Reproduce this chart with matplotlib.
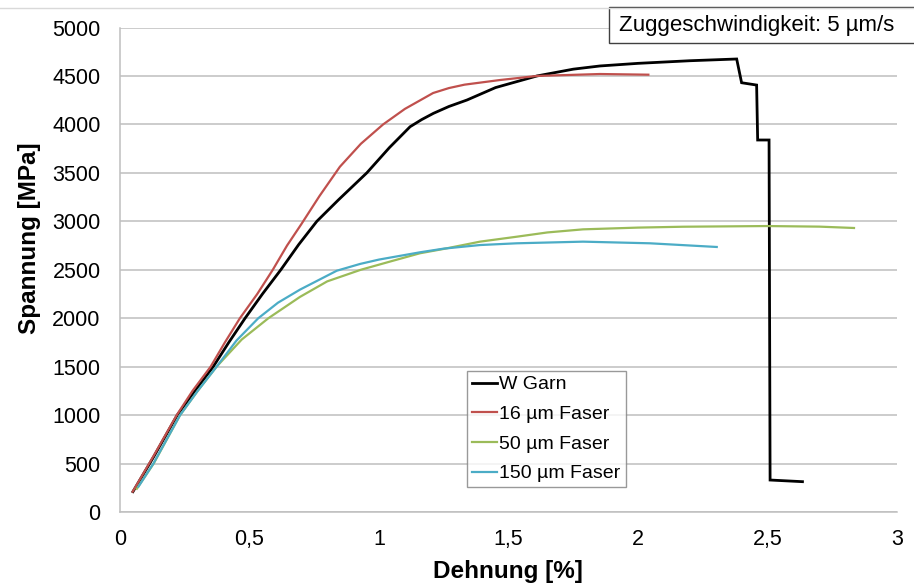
import matplotlib
matplotlib.use("Agg")
import matplotlib.pyplot as plt
from matplotlib.patches import Rectangle
from matplotlib.lines import Line2D

plt.rcParams['font.family'] = ['Liberation Sans', 'DejaVu Sans']

# ---- data ----
garn_x = [0.05, 0.13, 0.221, 0.29, 0.36, 0.42, 0.483, 0.55, 0.621, 0.69, 0.76, 0.843,
          0.953, 1.04, 1.12, 1.165, 1.21, 1.27, 1.34, 1.45, 1.61, 1.75, 1.853, 2.0, 2.2,
          2.381, 2.40, 2.458, 2.462, 2.506, 2.51, 2.635]
garn_y = [210, 570, 1000, 1250, 1500, 1750, 2000, 2250, 2500, 2760, 3000, 3220,
          3500, 3760, 3976, 4050, 4114, 4185, 4252, 4380, 4500, 4570, 4603, 4630, 4657,
          4675, 4430, 4406, 3839, 3839, 330, 313]

f16_x = [0.049, 0.13, 0.219, 0.28, 0.35, 0.405, 0.463, 0.53, 0.59, 0.645, 0.70, 0.77,
         0.849, 0.93, 1.016, 1.10, 1.209, 1.27, 1.33, 1.467, 1.61, 1.853, 2.04]
f16_y = [210, 580, 1000, 1250, 1500, 1750, 2000, 2250, 2500, 2750, 2970, 3260,
         3563, 3800, 4000, 4160, 4324, 4375, 4410, 4458, 4500, 4520, 4513]

f50_x = [0.065, 0.13, 0.232, 0.30, 0.373, 0.47, 0.573, 0.695, 0.80, 0.93, 1.05, 1.158,
         1.25, 1.39, 1.532, 1.65, 1.788, 2.0, 2.174, 2.497, 2.7, 2.834]
f50_y = [240, 500, 1000, 1250, 1500, 1780, 2000, 2220, 2380, 2500, 2590, 2670,
         2715, 2790, 2841, 2885, 2917, 2935, 2944, 2951, 2945, 2931]

f150_x = [0.071, 0.129, 0.232, 0.30, 0.373, 0.45, 0.534, 0.61, 0.695, 0.837, 0.927, 1.0,
          1.158, 1.25, 1.39, 1.532, 1.788, 2.046, 2.304]
f150_y = [261, 500, 1000, 1250, 1500, 1770, 2000, 2160, 2295, 2490, 2560, 2605,
          2680, 2718, 2755, 2773, 2790, 2773, 2735]

series_labels = ["W Garn", "16 µm Faser", "50 µm Faser", "150 µm Faser"]
series_colors = ["#000000", "#c0504d", "#9bbb59", "#4bacc6"]

x_ticks = [0, 0.5, 1, 1.5, 2, 2.5, 3]
x_tick_labels = ["0", "0,5", "1", "1,5", "2", "2,5", "3"]
y_ticks = [0, 500, 1000, 1500, 2000, 2500, 3000, 3500, 4000, 4500, 5000]
y_tick_labels = [str(v) for v in y_ticks]

x_label = "Dehnung [%]"
y_label = "Spannung [MPa]"
note = "Zuggeschwindigkeit: 5 µm/s"

# ---- figure ----
W, H = 914, 586
L, R, T, B = 120, 897, 27.5, 512
fig = plt.figure(figsize=(W / 100, H / 100), dpi=100)
ax = fig.add_axes([L / W, 1 - B / H, (R - L) / W, (B - T) / H])

ax.set_xlim(0, 3)
ax.set_ylim(0, 5000)
ax.set_xticks(x_ticks)
ax.set_xticklabels(x_tick_labels)
ax.set_yticks(y_ticks)
ax.set_yticklabels(y_tick_labels)
ax.tick_params(axis='both', length=0, labelsize=15.5, colors='#000000')
ax.tick_params(axis='y', pad=14)
ax.tick_params(axis='x', pad=12)

ax.grid(axis='y', color='#bfbfbf', linewidth=1.1)
ax.set_axisbelow(True)
for s in ['top', 'right']:
    ax.spines[s].set_visible(False)
for s in ['left', 'bottom']:
    ax.spines[s].set_color('#bfbfbf')
    ax.spines[s].set_linewidth(1.1)

data = [(garn_x, garn_y), (f16_x, f16_y), (f50_x, f50_y), (f150_x, f150_y)]
widths = [2.0, 1.6, 1.6, 1.6]
handles = []
for (xs, ys), lab, col, lw in zip(data, series_labels, series_colors, widths):
    h, = ax.plot(xs, ys, color=col, linewidth=lw, label=lab, solid_joinstyle='miter')
    handles.append(h)

ax.set_xlabel(x_label, fontsize=17.5, fontweight='bold')
ax.set_ylabel(y_label, fontsize=17.5, fontweight='bold')
ax.xaxis.set_label_coords((508 - L) / (R - L), -(560 - B) / (B - T))
ax.yaxis.set_label_coords(-(L - 41) / (R - L), (B - 238) / (B - T))

leg = fig.legend(handles=handles, labels=series_labels, loc='upper left',
                 bbox_to_anchor=(467 / W, 1 - 371 / H), fontsize=14,
                 frameon=True, fancybox=False, edgecolor='#808080',
                 handlelength=1.27, handletextpad=0.15, labelspacing=0.62,
                 borderpad=0.25, borderaxespad=0)
leg.get_frame().set_linewidth(1.0)

# faint chart-area top border
fig.add_artist(Line2D([0, 1], [1 - 8 / H, 1 - 8 / H], transform=fig.transFigure,
                      color='#d9d9d9', linewidth=1))
# note box (extends past right edge, as in reference)
fig.add_artist(Rectangle((609 / W, 1 - 43 / H), (930 - 609) / W, 36 / H,
                         transform=fig.transFigure, facecolor='white',
                         edgecolor='#404040', linewidth=1.0))
fig.text(619 / W, 1 - 26 / H, note, fontsize=16, va='center', ha='left')

fig.savefig("out.png", dpi=100)
